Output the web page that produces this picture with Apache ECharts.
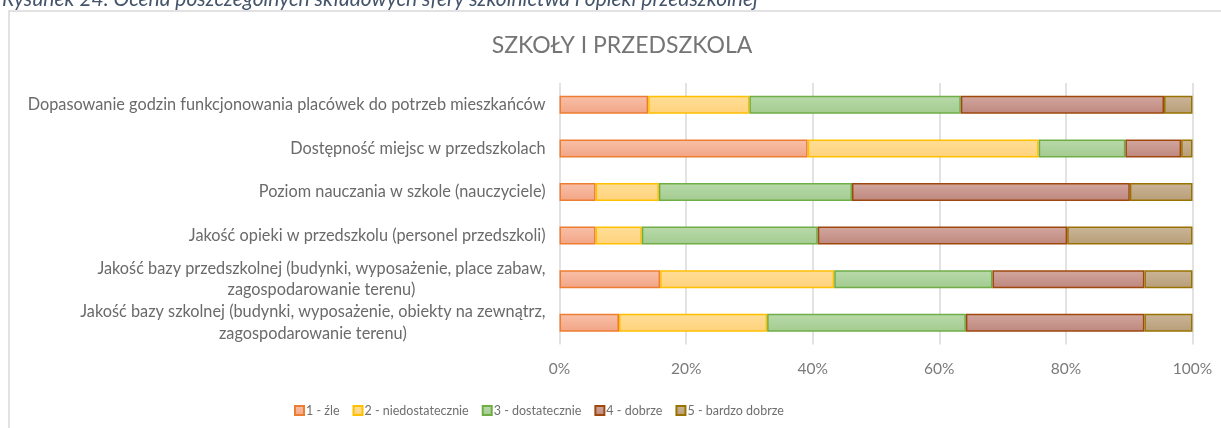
<!DOCTYPE html>
<html>
<head>
<meta charset="utf-8">
<script src="https://cdn.jsdelivr.net/npm/echarts@6/dist/echarts.min.js"></script>
<style>
html, body { margin: 0; padding: 0; background: #fff; }
#main { width: 1221px; height: 428px; }
</style>
</head>
<body>
<div id="main"></div>
<script>
// kategorie (od góry do dołu)
var categories = [
	'Dopasowanie godzin funkcjonowania placówek do potrzeb mieszkańców',
	'Dostępność miejsc w przedszkolach',
	'Poziom nauczania w szkole (nauczyciele)',
	'Jakość opieki w przedszkolu (personel przedszkoli)',
	'Jakość bazy przedszkolnej (budynki, wyposażenie, place zabaw,\nzagospodarowanie terenu)',
	'Jakość bazy szkolnej (budynki, wyposażenie, obiekty na zewnątrz,\nzagospodarowanie terenu)'
];
var seriesNames = ['1 - źle', '2 - niedostatecznie', '3 - dostatecznie', '4 - dobrze', '5 - bardzo dobrze'];
var zle = [14.0, 39.2, 5.7, 5.7, 15.9, 9.4];
var niedostatecznie = [16.0, 36.5, 10.0, 7.3, 27.5, 23.4];
var dostatecznie = [33.4, 13.7, 30.5, 27.8, 25.0, 31.4];
var dobrze = [32.1, 8.8, 43.9, 39.4, 24.0, 28.2];
var bardzoDobrze = [4.5, 1.8, 9.9, 19.8, 7.6, 7.6];
var tickLabels = ['0%', '20%', '40%', '60%', '80%', '100%'];

var values = [zle, niedostatecznie, dostatecznie, dobrze, bardzoDobrze];
var fills = [
	['#F8C1A9', '#F2A484'],
	['#FFDE97', '#FFD27C'],
	['#B9DAAA', '#A3CB90'],
	['#D2A79F', '#BE877D'],
	['#CAB597', '#B89E79']
];
var borders = ['#ED7D31', '#FFC000', '#70AD47', '#9E480E', '#997300'];

var series = [];
for (var i = 0; i < values.length; i++) {
	series.push({
		name: seriesNames[i],
		type: 'bar',
		stack: 'all',
		barWidth: 18,
		data: values[i],
		itemStyle: {
			color: new echarts.graphic.LinearGradient(0, 0, 0, 1, [
				{offset: 0, color: fills[i][0]},
				{offset: 1, color: fills[i][1]}
			]),
			borderColor: borders[i],
			borderWidth: 1.5
		},
		emphasis: {disabled: true}
	});
}

var myChart = echarts.init(document.getElementById('main'));
var option = {
	animation: false,
	backgroundColor: '#fff',
	textStyle: {fontFamily: 'Lato'},
	graphic: [{
		type: 'rect',
		shape: {x: 9, y: 11, width: 1400, height: 600},
		style: {fill: 'none', stroke: '#D9D9D9', lineWidth: 1.5},
		silent: true
	}],
	title: [{
		text: 'SZKOŁY I PRZEDSZKOLA',
		left: 617,
		top: 29,
		textAlign: 'center',
		textStyle: {fontFamily: 'Lato', fontSize: 23, fontWeight: 'normal', color: '#757575'}
	}, {
		text: 'Rysunek 24. Ocena poszczególnych składowych sfery szkolnictwa i opieki przedszkolnej',
		left: 2,
		top: -11,
		padding: 0,
		textStyle: {fontFamily: 'Lato', fontSize: 21, fontStyle: 'italic', fontWeight: 'normal', color: '#44546A'}
	}],
	legend: {
		left: 289,
		top: 399,
		itemWidth: 9,
		itemHeight: 9,
		itemGap: 13,
		icon: 'rect',
		data: seriesNames,
		textStyle: {fontFamily: 'Lato', fontSize: 12.5, color: '#6f6f6f', padding: [0, 0, 0, -3]}
	},
	grid: {
		left: 559.5,
		right: 28.5,
		top: 83,
		bottom: 83.5,
		containLabel: false
	},
	xAxis: {
		type: 'value',
		min: 0,
		max: 100,
		interval: 20,
		axisLine: {show: false},
		axisTick: {show: false},
		axisLabel: {
			margin: 16,
			fontFamily: 'Lato',
			fontSize: 15.5,
			color: '#7a7a7a',
			formatter: function(v) { return tickLabels[Math.round(v / 20)]; }
		},
		splitLine: {lineStyle: {color: '#D9D9D9', width: 1.5}}
	},
	yAxis: {
		type: 'category',
		inverse: true,
		data: categories,
		axisLine: {show: false},
		axisTick: {show: false},
		axisLabel: {
			margin: 14,
			formatter: function(v) {
				return v.split('\n').map(function(s) { return '{c|' + s + '}'; }).join('\n');
			},
			rich: {
				c: {align: 'center', fontFamily: 'Lato', fontSize: 16.3, color: '#6a6a6a', lineHeight: 21.5}
			}
		}
	},
	series: series
};
myChart.setOption(option);
</script>
</body>
</html>
